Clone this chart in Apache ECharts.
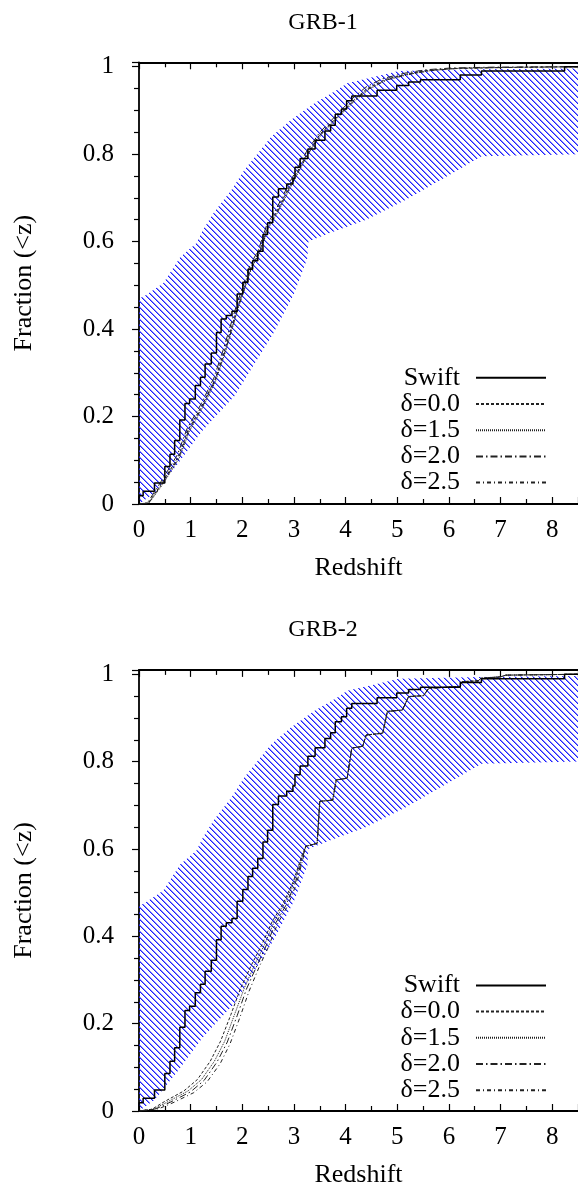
<!DOCTYPE html>
<html>
<head>
<meta charset="utf-8">
<script src="https://cdn.jsdelivr.net/npm/echarts@6/dist/echarts.min.js"></script>
<style>
html, body { margin: 0; padding: 0; background: #fff; }
#chart { width: 578px; height: 1189px; }
</style>
</head>
<body>
<div id="chart"></div>
<script>
// observed Swift sample, cumulative fraction vs redshift (same in both panels)
var swiftData = [[0,0],[0,0.019],[0.08,0.029],[0.30,0.048],[0.50,0.086],[0.60,0.114],[0.69,0.145],[0.79,0.192],
  [0.89,0.230],[0.98,0.240],[1.09,0.271],[1.19,0.290],[1.28,0.320],[1.40,0.345],[1.50,0.392],[1.59,0.423],
  [1.69,0.431],[1.80,0.441],[1.90,0.480],[2.01,0.507],[2.11,0.537],[2.20,0.556],[2.30,0.578],[2.40,0.616],
  [2.49,0.643],[2.59,0.702],[2.70,0.721],[2.86,0.732],[2.98,0.745],[3.02,0.770],[3.12,0.790],[3.27,0.812],
  [3.41,0.832],[3.60,0.853],[3.71,0.866],[3.80,0.891],[3.92,0.903],[4.02,0.922],[4.12,0.933],[4.61,0.946],
  [4.99,0.957],[5.22,0.965],[5.45,0.970],[6.22,0.981],[6.63,0.990],[8.24,1.0],[8.5,1.0]];

// hatched band edges
var bandUpper = [[0,0.47],[0.1,0.475],[0.47,0.505],[0.80,0.565],[1.11,0.596],[1.24,0.627],[1.46,0.668],
  [1.79,0.718],[2.04,0.764],[2.56,0.84],[2.94,0.878],[3.39,0.916],[3.84,0.947],[4.03,0.962],[4.5,0.975],
  [5.03,0.99],[6.6,0.994],[8.5,0.996]];
var bandLower = [[0,0],[0.3,0.025],[0.76,0.093],[1.21,0.165],[1.40,0.19],[1.85,0.247],[2.6,0.39],[3.0,0.48],
  [3.26,0.562],[3.28,0.60],[3.68,0.619],[4.4,0.65],[5.16,0.695],[6.06,0.756],[6.63,0.795],[8.5,0.8]];

// GRB-1 model curves
var d00Top = [[0,0],[0.18,0.002],[0.44,0.047],[0.76,0.108],[0.95,0.169],[1.21,0.223],[1.47,0.284],[1.66,0.352],
  [1.91,0.451],[2.17,0.543],[2.33,0.577],[2.49,0.634],[2.68,0.672],[2.94,0.733],[3.26,0.802],[3.52,0.848],
  [3.84,0.886],[4.16,0.924],[4.42,0.950],[4.77,0.971],[5.22,0.984],[5.61,0.992],[6.12,0.996],[6.96,0.998],[8.5,1.0]];
var d15Top = [[0,0],[0.2,0.003],[0.46,0.045],[0.78,0.105],[0.97,0.165],[1.23,0.22],[1.48,0.28],[1.68,0.35],
  [1.92,0.448],[2.18,0.54],[2.34,0.575],[2.5,0.63],[2.7,0.67],[2.96,0.73],[3.27,0.80],[3.54,0.846],
  [3.86,0.885],[4.18,0.922],[4.45,0.948],[4.8,0.97],[5.25,0.983],[5.65,0.991],[6.2,0.996],[7.0,0.998],[8.5,1.0]];
var d20Top = [[0,0],[0.16,0.002],[0.42,0.05],[0.74,0.112],[0.93,0.172],[1.19,0.226],[1.45,0.288],[1.64,0.356],
  [1.89,0.455],[2.15,0.546],[2.31,0.58],[2.47,0.637],[2.66,0.675],[2.92,0.736],[3.24,0.805],[3.5,0.85],
  [3.82,0.889],[4.13,0.927],[4.39,0.953],[4.72,0.973],[5.18,0.986],[5.56,0.993],[6.05,0.997],[6.9,0.999],[8.5,1.0]];
var d25Top = [[0,0],[0.19,0.003],[0.45,0.046],[0.77,0.106],[0.96,0.167],[1.22,0.221],[1.47,0.282],[1.67,0.35],
  [1.92,0.449],[2.18,0.541],[2.34,0.576],[2.5,0.632],[2.69,0.67],[2.95,0.731],[3.27,0.8],[3.53,0.847],
  [3.85,0.886],[4.17,0.923],[4.44,0.949],[4.8,0.97],[5.25,0.983],[5.64,0.991],[6.15,0.996],[7.0,0.998],[8.5,1.0]];

// GRB-2 model curves: low part differs, high part is shared
var d00BotLow = [[0,0],[0.25,0.004],[0.5,0.022],[0.87,0.046],[1.13,0.072],[1.38,0.114],[1.58,0.16],[1.78,0.221],
  [1.97,0.282],[2.18,0.335],[2.38,0.381],[2.58,0.434],[2.78,0.473],[2.99,0.526],[3.16,0.587]];
var d15BotLow = [[0,0],[0.3,0.005],[0.57,0.022],[0.95,0.046],[1.21,0.072],[1.46,0.114],[1.66,0.16],[1.85,0.221],
  [2.04,0.282],[2.24,0.335],[2.43,0.381],[2.62,0.434],[2.81,0.473],[3.01,0.526],[3.17,0.587]];
var d20BotLow = [[0,0],[0.33,0.005],[0.62,0.021],[1.0,0.044],[1.26,0.07],[1.51,0.112],[1.71,0.158],[1.9,0.218],
  [2.08,0.279],[2.28,0.332],[2.46,0.378],[2.65,0.431],[2.84,0.47],[3.03,0.523],[3.18,0.586]];
var d25BotLow = [[0,0],[0.38,0.005],[0.68,0.02],[1.06,0.042],[1.32,0.067],[1.57,0.108],[1.76,0.153],[1.95,0.213],
  [2.13,0.274],[2.32,0.328],[2.5,0.374],[2.68,0.428],[2.87,0.468],[3.05,0.52],[3.19,0.585]];
var dBotHigh = [[3.23,0.606],[3.45,0.613],[3.5,0.709],[3.75,0.712],[3.82,0.758],[4.03,0.762],[4.12,0.831],
  [4.33,0.835],[4.40,0.861],[4.72,0.865],[4.81,0.915],[5.1,0.918],[5.22,0.949],[5.51,0.951],[5.61,0.968],
  [6.22,0.972],[6.26,0.983],[6.57,0.985],[6.62,0.991],[7.0,0.994],[7.1,0.998],[8.5,1.0]];

var seriesNames = ['Swift', 'δ=0.0', 'δ=1.5', 'δ=2.0', 'δ=2.5'];
var dashes = [[3, 2], [1, 1], [7, 3, 1.5, 3], [4, 3, 1, 3]];
var panelTitles = ['GRB-1', 'GRB-2'];
var modelTop = [d00Top, d15Top, d20Top, d25Top];
var modelBot = [d00BotLow.concat(dBotHigh), d15BotLow.concat(dBotHigh),
  d20BotLow.concat(dBotHigh), d25BotLow.concat(dBotHigh)];

var FONT = 'Liberation Serif';
var gridTops = [62.3, 669.9];
var gridH = 441.7;

// crisp "\" hatch tile
function makeHatch() {
  var n = 6;
  var c = document.createElement('canvas');
  c.width = n; c.height = n;
  var ctx = c.getContext('2d');
  for (var i = 0; i < n; i++) {
    ctx.fillStyle = '#1e1eff';
    ctx.fillRect(i, i, 1, 1);
    ctx.fillStyle = 'rgba(40,40,255,0.55)';
    ctx.fillRect((i + 1) % n, i, 1, 1);
  }
  return c;
}
var hatch = makeHatch();

var chart = echarts.init(document.getElementById('chart'), null, { renderer: 'canvas' });

var grids = [], xAxes = [], yAxes = [], series = [], titles = [], legends = [];
var tickStyle = { color: '#000', width: 1.2 };

for (var g = 0; g < 2; g++) {
  grids.push({ left: 139, right: -2, top: gridTops[g], height: gridH });

  xAxes.push({
    type: 'value', gridIndex: g, position: 'bottom', min: 0, max: 8.5, interval: 1,
    axisLine: { lineStyle: { color: '#000', width: 1.8 } },
    axisTick: { inside: true, length: 7, lineStyle: tickStyle },
    minorTick: { show: true, splitNumber: 2, length: 5, lineStyle: tickStyle },
    splitLine: { show: false },
    axisLabel: { color: '#000', fontFamily: FONT, fontSize: 25, margin: 14, showMaxLabel: false },
    name: 'Redshift', nameLocation: 'middle', nameGap: 51,
    nameTextStyle: { color: '#000', fontFamily: FONT, fontSize: 26 }
  });
  xAxes.push({
    type: 'value', gridIndex: g, position: 'top', min: 0, max: 8.5, interval: 1,
    axisLine: { lineStyle: { color: '#000', width: 1.8 } },
    axisTick: { inside: true, length: 7, lineStyle: tickStyle },
    minorTick: { show: true, splitNumber: 2, length: 5, lineStyle: tickStyle },
    splitLine: { show: false },
    axisLabel: { show: false }
  });
  yAxes.push({
    type: 'value', gridIndex: g, min: 0, max: 1.01, interval: 0.2,
    axisLine: { show: true, lineStyle: { color: '#000', width: 1.8 } },
    axisTick: { show: true, inside: false, length: 7, lineStyle: tickStyle },
    minorTick: { show: true, splitNumber: 4, length: 5, lineStyle: tickStyle },
    splitLine: { show: false },
    axisLabel: { color: '#000', fontFamily: FONT, fontSize: 25, margin: 25 },
    name: 'Fraction (<z)', nameLocation: 'middle', nameGap: 102,
    nameTextStyle: { color: '#000', fontFamily: FONT, fontSize: 26 }
  });

  titles.push({
    text: panelTitles[g], left: 323, top: gridTops[g] - 52, textAlign: 'center', padding: 0,
    textStyle: { color: '#000', fontFamily: FONT, fontSize: 24, fontWeight: 'normal' }
  });

  legends.push({
    data: seriesNames, orient: 'vertical', right: 31, top: gridTops[g] + 302.5, padding: 0,
    align: 'right', itemWidth: 70, itemHeight: 26, itemGap: 0.2, selectedMode: false,
    itemStyle: { opacity: 0 },
    textStyle: { color: '#000', fontFamily: FONT, fontSize: 26, lineHeight: 26, padding: [0, 11, 0, 0] }
  });

  // hatched band
  series.push({
    type: 'custom', xAxisIndex: g * 2, yAxisIndex: g, silent: true, z: 1, clip: true,
    data: [[0, 0]],
    renderItem: function (params, api) {
      var pts = [];
      bandUpper.forEach(function (p) { pts.push(api.coord(p)); });
      for (var i = bandLower.length - 1; i >= 0; i--) pts.push(api.coord(bandLower[i]));
      return {
        type: 'polygon', shape: { points: pts },
        style: { fill: { image: hatch, repeat: 'repeat' }, stroke: null }
      };
    }
  });

  var models = g === 0 ? modelTop : modelBot;
  for (var k = 0; k < 4; k++) {
    series.push({
      name: seriesNames[k + 1], type: 'line', xAxisIndex: g * 2, yAxisIndex: g, z: 3,
      data: models[k], symbol: 'none', silent: true, animation: false,
      itemStyle: { color: '#222' },
      lineStyle: { color: '#222', width: 1, type: dashes[k] }
    });
  }
  series.push({
    name: 'Swift', type: 'line', xAxisIndex: g * 2, yAxisIndex: g, z: 4,
    data: swiftData, step: 'end', symbol: 'none', silent: true, animation: false,
    itemStyle: { color: '#000' },
    lineStyle: { color: '#000', width: 1.5 }
  });
}

chart.setOption({
  animation: false,
  title: titles,
  legend: legends,
  grid: grids,
  xAxis: xAxes,
  yAxis: yAxes,
  series: series
});
</script>
</body>
</html>
